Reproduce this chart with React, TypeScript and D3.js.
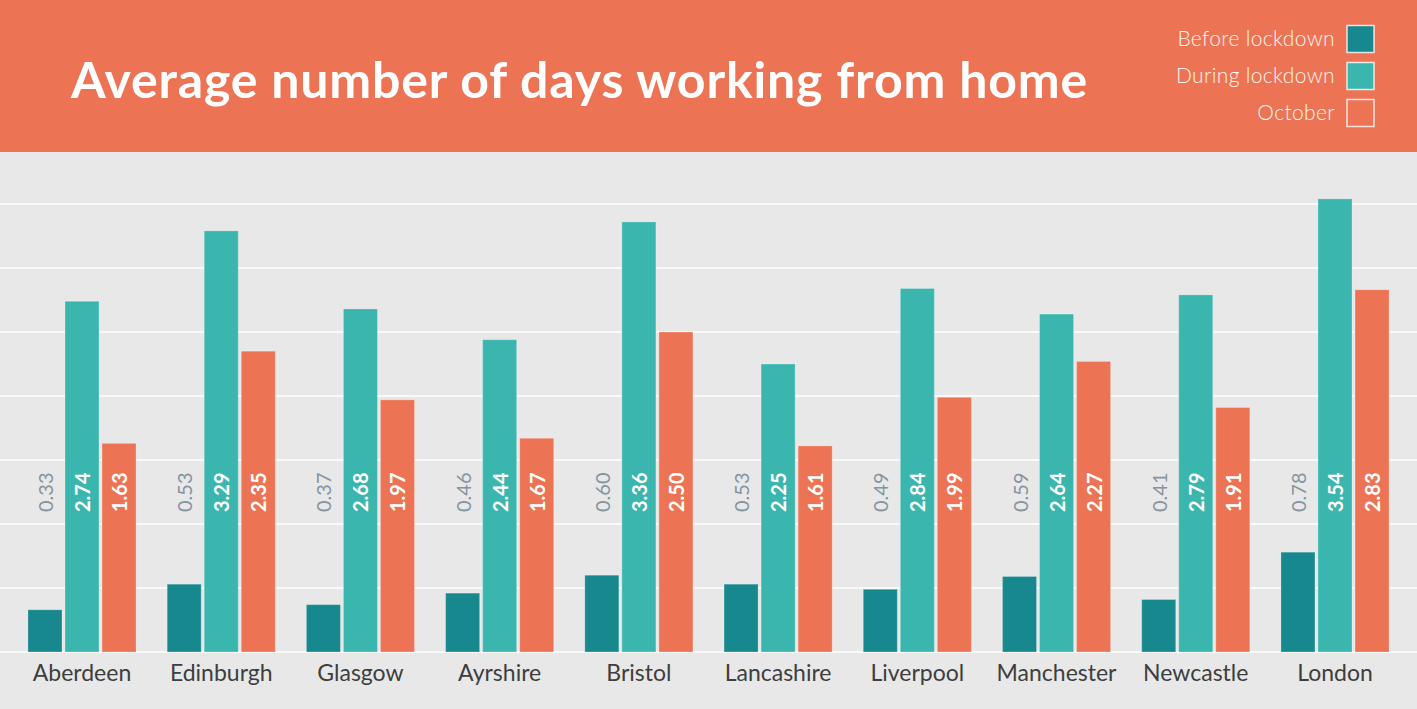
import React from "react";
import * as d3 from "d3";

const cities = [
  "Aberdeen",
  "Edinburgh",
  "Glasgow",
  "Ayrshire",
  "Bristol",
  "Lancashire",
  "Liverpool",
  "Manchester",
  "Newcastle",
  "London",
];
const series = ["Before lockdown", "During lockdown", "October"];
const before = [0.33, 0.53, 0.37, 0.46, 0.6, 0.53, 0.49, 0.59, 0.41, 0.78];
const during = [2.74, 3.29, 2.68, 2.44, 3.36, 2.25, 2.84, 2.64, 2.79, 3.54];
const october = [1.63, 2.35, 1.97, 1.67, 2.5, 1.61, 1.99, 2.27, 1.91, 2.83];
const gridTicks = [0.5, 1, 1.5, 2, 2.5, 3, 3.5];

const W = 1417;
const H = 709;
const HEADER = 152;
const ORANGE = "#EC7455";
const colors = ["#18888F", "#3AB6AE", ORANGE];
const labelColors = ["#8494A0", "#ffffff", "#ffffff"];
const FONT = "Lato, 'Open Sans', sans-serif";

export default function App() {
  const values = [before, during, october];

  const y = d3.scaleLinear().domain([0, 3.5]).range([652, 204]);
  const x0 = d3.scaleBand().domain(cities).range([12.4, 1404.6]).padding(0);
  const x1 = d3
    .scaleBand()
    .domain(series)
    .range([0, x0.bandwidth()])
    .paddingInner(3 / 37)
    .paddingOuter(0.42);

  return (
    <>
      <style>{`body{margin:0}`}</style>
      <svg width={W} height={H} style={{ display: "block" }}>
        <rect x={0} y={0} width={W} height={HEADER} fill={ORANGE} />
        <rect x={0} y={HEADER} width={W} height={H - HEADER} fill="#E8E8E8" />
        <text
          x={71}
          y={98}
          fill="#fff"
          fontFamily={FONT}
          fontWeight={700}
          fontSize={50}
          letterSpacing={0.85}
        >
          Average number of days working from home
        </text>

        {/* legend */}
        {series.map((s, i) => (
          <g key={s} transform={`translate(0,${25 + i * 37})`}>
            <text
              x={1335}
              y={21}
              textAnchor="end"
              fill="#FFF3EE"
              fontFamily={FONT}
              fontWeight={300}
              fontSize={21}
              letterSpacing={0.35}
            >
              {s}
            </text>
            <rect
              x={1347}
              y={0.5}
              width={27}
              height={27}
              fill={colors[i]}
              stroke="#fff"
              strokeOpacity={0.8}
              strokeWidth={1.5}
            />
          </g>
        ))}

        {/* grid */}
        {gridTicks.map((t) => (
          <line
            key={t}
            x1={0}
            x2={W}
            y1={y(t)}
            y2={y(t)}
            stroke="#fff"
            strokeWidth={1.5}
          />
        ))}
        <line x1={0} x2={W} y1={y(0)} y2={y(0)} stroke="#fff" strokeWidth={1.5} />

        {cities.map((c, ci) => (
          <g key={c} transform={`translate(${x0(c)},0)`}>
            {series.map((s, si) => {
              const v = values[si][ci];
              const bx = x1(s)!;
              const bw = x1.bandwidth();
              const cx = bx + bw / 2;
              return (
                <g key={s}>
                  <rect
                    x={bx}
                    y={y(v)}
                    width={bw}
                    height={y(0) - y(v)}
                    fill={colors[si]}
                    stroke="#fff"
                    strokeOpacity={0.25}
                    strokeWidth={1}
                  />
                  <text
                    transform={`translate(${cx},512) rotate(-90)`}
                    dominantBaseline="central"
                    fill={labelColors[si]}
                    fontFamily={FONT}
                    fontWeight={si === 0 ? 400 : 700}
                    fontSize={20}
                  >
                    {v.toFixed(2)}
                  </text>
                </g>
              );
            })}
            <text
              x={x0.bandwidth() / 2}
              y={681}
              textAnchor="middle"
              fill="#3E3E3E"
              fontFamily={FONT}
              fontWeight={400}
              fontSize={23}
            >
              {c}
            </text>
          </g>
        ))}
      </svg>
    </>
  );
}
